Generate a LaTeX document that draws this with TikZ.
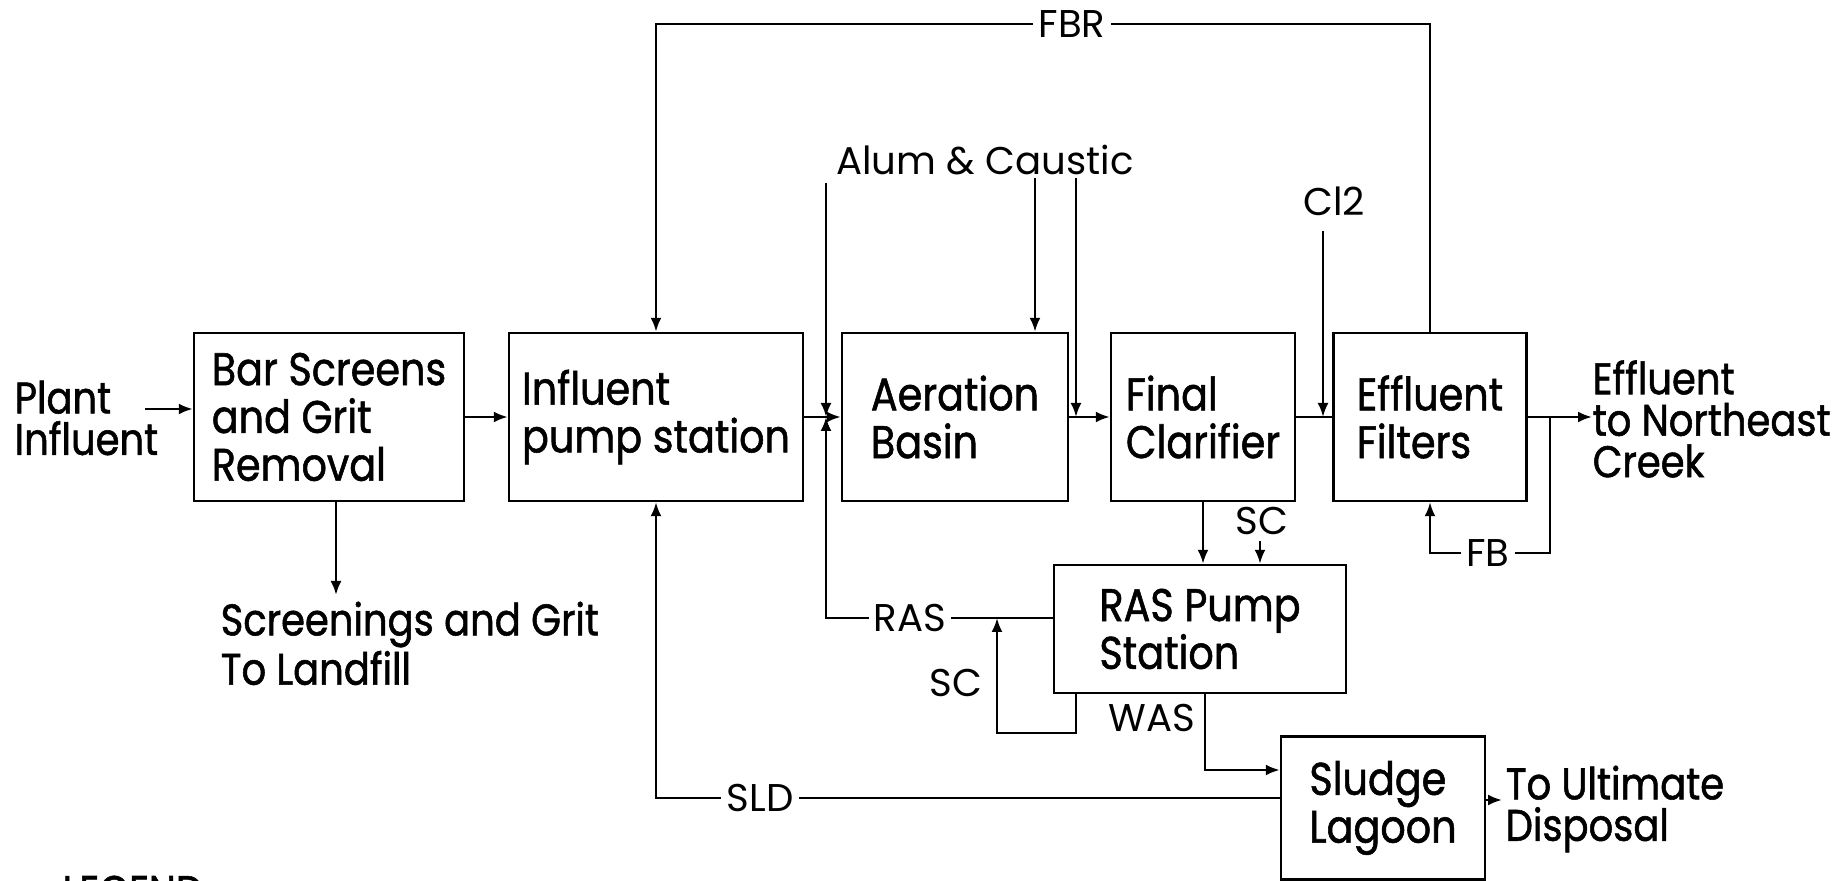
\documentclass[tikz,border=0pt]{standalone}
\usepackage{fontspec}
\setmainfont{Poppins}
\newfontfamily\narrowfont{Poppins}[FakeStretch=0.87,FakeBold=1.2]
\usetikzlibrary{arrows.meta,positioning,calc}
\newcommand{\blockfont}{\narrowfont\fontsize{13}{13.6}\selectfont}
\newcommand{\sidefont}{\narrowfont\fontsize{12.6}{11.8}\selectfont}
\newcommand{\tagfont}{\fontsize{11}{12}\selectfont}

\begin{document}
\begin{tikzpicture}[
  >={Latex[length=1.4mm,width=1.1mm]},
  unit/.style={draw,line width=0.7pt,align=left,font=\blockfont,inner sep=0pt},
  side/.style={align=left,font=\sidefont,inner sep=0pt},
  tag/.style={font=\tagfont,fill=white,inner sep=1.5pt},
  pipe/.style={line width=0.7pt},
  feed/.style={->,line width=0.7pt}
]
\useasboundingbox (0,0) rectangle (18.34,8.81);

% ---- treatment units (main line) ----
\node[unit,minimum width=2.70cm,minimum height=1.68cm] (bar) at (3.29,4.64) {Bar Screens\\and Grit\\Removal};
\node[unit,minimum width=2.94cm,minimum height=1.68cm] (infl) at (6.56,4.64) {Influent\\pump station};
\node[unit,minimum width=2.26cm,minimum height=1.68cm] (aer) at (9.55,4.64) {Aeration\\Basin};
\node[unit,minimum width=1.84cm,minimum height=1.68cm] (clar) at (12.03,4.64) {Final\\Clarifier};
\node[unit,minimum width=1.93cm,minimum height=1.68cm] (filt) at (14.30,4.64) {Effluent\\Filters};
\node[unit,minimum width=2.92cm,minimum height=1.28cm] (ras) at (12.00,2.52) {RAS Pump\\Station};
\node[unit,minimum width=2.04cm,minimum height=1.43cm] (lagoon) at (13.83,0.73) {Sludge\\Lagoon};

% ---- inflow / outflow texts ----
\node[side,anchor=west] (plant) at (0.14,4.63) {Plant\\Influent};
\node[side,anchor=north west] (screen) at (2.20,2.80) {Screenings and Grit\\To Landfill};
\node[side,anchor=west] (creek) at (15.92,4.62) {Effluent\\to Northeast\\Creek};
\node[side,anchor=west] (disp) at (15.05,0.72) {To Ultimate\\Disposal};
\node[side,anchor=north west] (legend) at (0.62,0.06) {LEGEND};

% ---- main flow ----
\coordinate (plantin) at (1.45,4.72);
\draw[feed] (plantin) -- (plantin -| bar.west);
\draw[feed] (bar.east) -- (infl.west);
\coordinate (screenin) at (3.36,2.86);
\draw[feed] (bar.south -| screenin) -- (screenin);
\draw[feed] (infl.east) -- (aer.west);
\draw[feed] (aer.east) -- (clar.west);
\draw[pipe] (clar.east) -- (filt.west);
\draw[feed] (filt.east) -- (creek.west |- filt.east);

% ---- chemical feeds ----
\node[tag,fill=none] (alum) at (9.85,7.21) {Alum \& Caustic};
\coordinate (alumA) at (8.26,6.98);
\coordinate (alumB) at (10.35,7.03);
\coordinate (alumC) at (10.76,7.03);
\draw[feed] (alumA) -- (alumA |- infl.east);
\draw[feed] (alumB) -- (alumB |- aer.north);
\draw[feed] (alumC) -- (alumC |- aer.east);
\node[tag,fill=none] (cl) at (13.34,6.80) {Cl2};
\coordinate (clin) at (13.23,6.50);
\draw[feed] (clin) -- (clin |- clar.east);

% ---- filter backwash (FBR, FB) ----
\coordinate (fbrtop) at (10.72,8.57);
\draw[feed] (filt.north) |- (fbrtop) -| (infl.north);
\node[tag] (fbr) at (fbrtop) {FBR};
\coordinate (fbtap) at (15.50,4.64);
\coordinate (fbbot) at (14.88,3.28);
\draw[feed] (fbtap) |- (fbbot) -| (filt.south);
\node[tag] (fb) at (fbbot) {FB};

% ---- return / waste sludge ----
\draw[feed] (clar.south) -- (clar.south |- ras.north);
\coordinate (scin) at (12.60,3.40);
\draw[feed] (scin) -- (scin |- ras.north);
\node[tag,fill=none] (scup) at (12.62,3.60) {SC};
\coordinate (rasout) at ($(ras.west)+(0,0.11)$);
\draw[feed] (rasout) -- (rasout -| alumA) -- (alumA |- infl.east);
\node[tag] (raslbl) at (9.10,2.63) {RAS};
\coordinate (scout) at (10.76,1.48);
\coordinate (scloop) at (9.97,1.48);
\draw[feed] (ras.south -| scout) -- (scout) -- (scloop) -- (scloop |- rasout);
\node[tag,fill=none] (scdown) at (9.56,1.98) {SC};
\coordinate (wasout) at (12.05,1.11);
\draw[feed] (ras.south -| wasout) -- (wasout) -- (lagoon.west |- wasout);
\node[tag,fill=none] (waslbl) at (11.52,1.63) {WAS};
\coordinate (sldin) at (13.0,0.83);
\draw[feed] (lagoon.west |- sldin) -| (infl.south);
\node[tag] (sldlbl) at (7.60,0.83) {SLD};
\coordinate (dispin) at (15.02,0.81);
\draw[feed] (lagoon.east |- dispin) -- (dispin);

\end{tikzpicture}
\end{document}
